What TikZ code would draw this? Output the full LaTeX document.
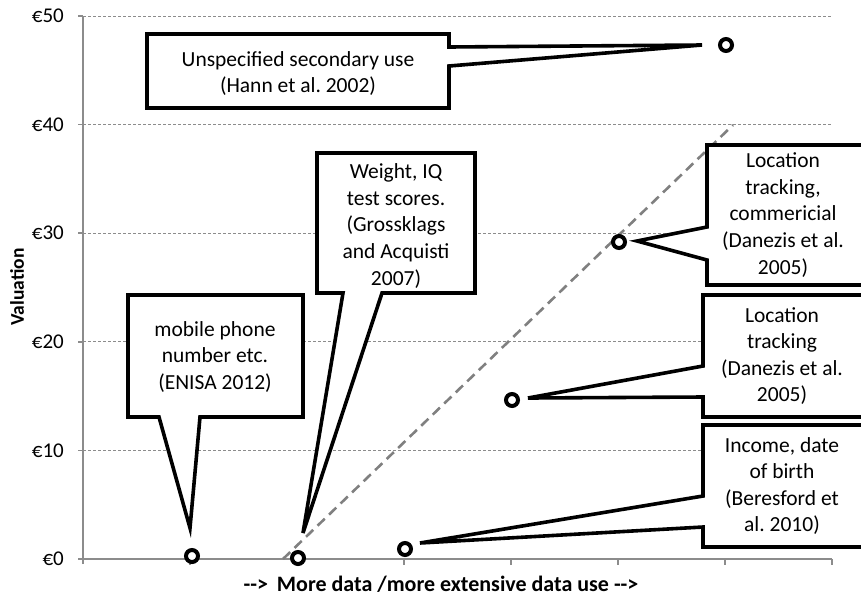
\documentclass[tikz,border=0pt]{standalone}
\usepackage{fontspec}
\setmainfont{Carlito}
\newfontfamily\plainfont{Carlito}
\frenchspacing
\begin{document}
\begin{tikzpicture}[x=1pt,y=-1pt,
  grid/.style={draw=black!45, line width=0.9pt, dash pattern=on 3pt off 2pt},
  axisline/.style={draw=black!45, line width=1.5pt},
  callout/.style={draw=black, fill=white, line width=3.6pt, line join=miter},
  calltext/.style={align=center, font=\fontsize{21.5}{26.6}\selectfont, inner sep=0pt},
  dot/.style={circle, draw=black, fill=white, line width=4pt, minimum size=12pt, inner sep=0pt},
  trend/.style={draw=black!50, line width=2.6pt, dash pattern=on 10pt off 6pt},
  ticklab/.style={anchor=east, font=\fontsize{21}{25}\selectfont, inner sep=0pt},
  axlab/.style={font=\plainfont\bfseries\fontsize{19.5}{23}\selectfont, inner sep=0pt},
  xaxlab/.style={font=\plainfont\bfseries\fontsize{22}{26}\selectfont, inner sep=0pt}]
\useasboundingbox (0,0) rectangle (861,598);
\clip (0,0) rectangle (861,598);
% gridlines
\foreach \v/\lab in {1/10,2/20,3/30,4/40,5/50}{
  \draw[grid] (83,559-108.6*\v) -- (832,559-108.6*\v);
  \draw[axisline] (78,559-108.6*\v) -- (83,559-108.6*\v);
  \node[ticklab] (yl\lab) at (64,559-108.6*\v) {€\lab};
}
\node[ticklab] (yl0) at (64,559) {€0};
% axes
\coordinate (o) at (83,559);
\coordinate (yend) at (83,16);
\coordinate (xend) at (832,559);
\draw[axisline] (78,559) -- (xend);
\draw[axisline] (83,564) -- (yend);
\foreach \k in {1,...,7}{
  \draw[axisline] (83+107*\k,559) -- (83+107*\k,565);
}
\node[axlab, rotate=90] (ylab) at (17,287) {Valuation};
\node[xaxlab] (xlab) at (441,584) {-->\hspace{4pt} More data /more extensive data use -->};
% trend line
\coordinate (tr0) at (283,559);
\coordinate (tr1) at (733,125);
\draw[trend] (tr0) -- (tr1);
% data points
\node[dot] (d1) at (192,556) {};
\node[dot] (d2) at (298,558) {};
\node[dot] (d3) at (405,549) {};
\node[dot] (d4) at (512,400) {};
\node[dot] (d5) at (619,242) {};
\node[dot] (d6) at (726,45) {};
% pointer tips
\coordinate (t1) at (702,45);
\coordinate (t2) at (303,533);
\coordinate (t3) at (637,241);
\coordinate (t4) at (528,398);
\coordinate (t5) at (420,543);
\coordinate (t6) at (190,528);
% callouts
\draw[callout] (147,34) -- (449,34) -- (449,47) -- (t1) -- (449,66) -- (449,108) -- (147,108) -- cycle;
\node[calltext] (c1) at (298,73.5) {Unspecified secondary use\\(Hann et al. 2002)};

\draw[callout] (317,153) -- (475,153) -- (475,293) -- (382,293) -- (t2) -- (343,293) -- (317,293) -- cycle;
\node[calltext] (c2) at (396,226) {Weight, IQ\\test scores.\\(Grossklags\\and Acquisti\\2007)};

\draw[callout] (707,145) -- (866,145) -- (866,285) -- (707,285) -- (707,260) -- (t3) -- (707,227) -- cycle;
\node[calltext] (c3) at (783,215) {Location\\tracking,\\commericial\\(Danezis et al.\\2005)};

\draw[callout] (703,295) -- (866,295) -- (866,417) -- (703,417) -- (703,397) -- (t4) -- (703,366) -- cycle;
\node[calltext] (c4) at (782,356) {Location\\tracking\\(Danezis et al.\\2005)};

\draw[callout] (703,425) -- (866,425) -- (866,547) -- (703,547) -- (703,527) -- (t5) -- (703,496) -- cycle;
\node[calltext] (c5) at (782,486) {Income, date\\of birth\\(Beresford et\\al. 2010)};

\draw[callout] (128,295) -- (303,295) -- (303,417) -- (200,417) -- (t6) -- (159,417) -- (128,417) -- cycle;
\node[calltext] (c6) at (215,357) {mobile phone\\number etc.\\(ENISA 2012)};
\end{tikzpicture}
\end{document}
